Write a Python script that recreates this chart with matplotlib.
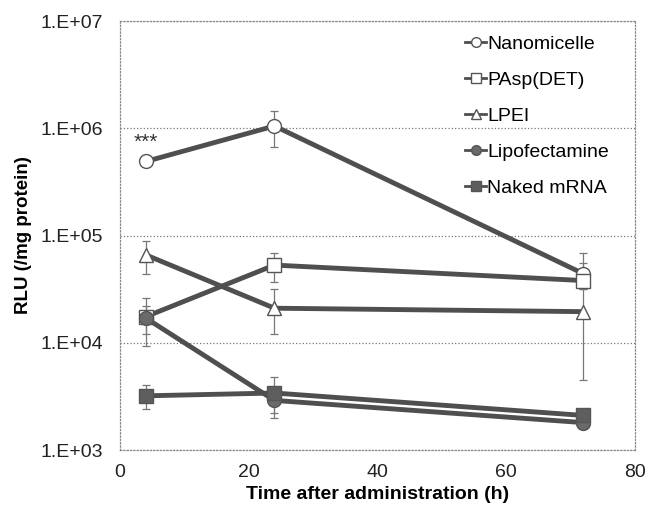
import numpy as np
import matplotlib
matplotlib.use("Agg")
import matplotlib.pyplot as plt

plt.rcParams['font.family'] = ['Liberation Sans', 'DejaVu Sans']

# data
hours = [4, 24, 72]
labels = ['Nanomicelle', 'PAsp(DET)', 'LPEI', 'Lipofectamine', 'Naked mRNA']
nanomicelle = [4.9e5, 1.05e6, 4.4e4]
nanomicelle_lo = [4.9e5, 6.7e5, 3.6e4]
nanomicelle_hi = [4.9e5, 1.45e6, 5.5e4]
pasp = [1.75e4, 5.3e4, 3.8e4]
pasp_lo = [9.4e3, 3.7e4, 3.2e4]
pasp_hi = [2.6e4, 6.9e4, 6.8e4]
lpei = [6.6e4, 2.1e4, 1.95e4]
lpei_lo = [4.4e4, 1.2e4, 4.5e3]
lpei_hi = [8.9e4, 3.2e4, 3.2e4]
lipo = [1.7e4, 2.9e3, 1.8e3]
lipo_lo = [1.2e4, 2.0e3, 1.6e3]
lipo_hi = [2.2e4, 3.6e3, 2.0e3]
naked = [3.2e3, 3.4e3, 2.1e3]
naked_lo = [2.4e3, 2.2e3, 1.9e3]
naked_hi = [4.0e3, 4.8e3, 2.4e3]

series = [
    (nanomicelle, nanomicelle_lo, nanomicelle_hi, 'o', 'white', 10),
    (pasp, pasp_lo, pasp_hi, 's', 'white', 9.5),
    (lpei, lpei_lo, lpei_hi, '^', 'white', 10.5),
    (lipo, lipo_lo, lipo_hi, 'o', '#6a6a6a', 10),
    (naked, naked_lo, naked_hi, 's', '#5e5e5e', 9.5),
]

fig = plt.figure(figsize=(6.57, 5.13), dpi=100)
ax = fig.add_axes([0.1826, 0.1228, 0.7839, 0.8362])

for (vals, lo, hi, mk, fc, ms), name in zip(series, labels):
    vals = np.array(vals)
    yerr = [vals - np.array(lo), np.array(hi) - vals]
    ax.errorbar(hours, vals, yerr=yerr, fmt='none', ecolor='#777777',
                elinewidth=0.9, capsize=3, capthick=0.9, zorder=2)
    ax.plot(hours, vals, color='#4f4f4f', lw=3.5, marker=mk, ms=ms,
            mfc=fc, mec='#555555', mew=1.0, label=name, zorder=3)

ax.set_yscale('log')
ax.set_ylim(1e3, 1e7)
ax.set_xlim(0, 80)
ax.set_xticks([0, 20, 40, 60, 80])
yt = [1e3, 1e4, 1e5, 1e6, 1e7]
ax.set_yticks(yt)
ax.set_yticklabels(['1.E+03', '1.E+04', '1.E+05', '1.E+06', '1.E+07'])
ax.yaxis.set_minor_locator(matplotlib.ticker.NullLocator())
ax.tick_params(axis='both', length=0, labelsize=14, colors='#222222')
ax.tick_params(axis='y', pad=12)
ax.tick_params(axis='x', pad=10)
ax.grid(axis='y', which='major', linestyle=':', color='#777777', lw=0.9)
for sp in ax.spines.values():
    sp.set_color('#888888')
    sp.set_linewidth(0.9)
    sp.set_linestyle(':')

ax.text(4, 6.0e5, '***', ha='center', va='bottom', fontsize=15, color='#333333')

ax.set_xlabel('Time after administration (h)', fontsize=14, fontweight='bold', labelpad=4)
ax.set_ylabel('RLU (/mg protein)', fontsize=13.5, fontweight='bold', labelpad=6)

leg = ax.legend(loc='upper right', bbox_to_anchor=(0.965, 0.985), frameon=False,
                fontsize=14, handlelength=1.1, handletextpad=0.05, labelspacing=0.95,
                borderaxespad=0.0, markerscale=0.7)
for line in leg.get_lines():
    line.set_linewidth(2)

fig.savefig('out.png', dpi=100)
